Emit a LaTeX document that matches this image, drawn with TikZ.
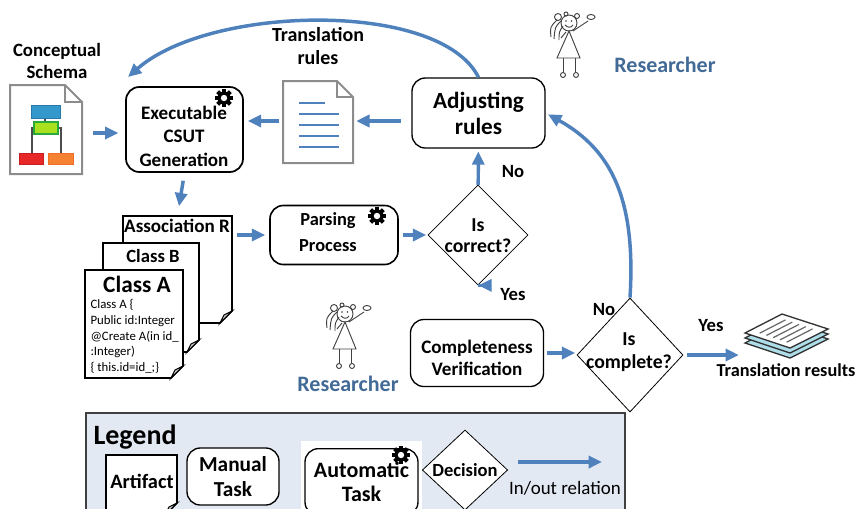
\documentclass[tikz,border=0pt]{standalone}
\usepackage{fontspec}
\setmainfont{Carlito}
\usetikzlibrary{shapes.geometric,arrows.meta}

\definecolor{flowblue}{RGB}{79,129,189}
\definecolor{roleblue}{RGB}{66,106,150}
\definecolor{legendbg}{RGB}{227,233,243}
\definecolor{docgray}{RGB}{140,140,140}

\tikzset{
	flow/.style={draw=flowblue, line width=2.6pt, -{Triangle[length=10pt,width=9pt]}},
	task/.style={draw, rounded corners=10pt, line width=1pt, fill=white, align=center, inner sep=0pt, font=\bfseries\fontsize{14.3}{18}\selectfont},
	decision/.style={draw, diamond, line width=0.6pt, fill=white, align=center, inner sep=0pt, font=\bfseries\fontsize{14.8}{16}\selectfont},
	txt/.style={align=center, inner sep=0pt, font=\bfseries\fontsize{14}{16.5}\selectfont},
	artifact/.style={draw, line width=1.2pt, fill=white},
	docline/.style={draw=docgray, line width=1.5pt, fill=white},
	sketch/.style={draw=black!75, line width=0.7pt},
	gear/.pic={
		\foreach \a in {0,45,...,315}
			\fill[rotate=\a] (-2,5) rectangle (2,9);
		\fill (0,0) circle (6.5);
		\fill[white] (0,0) circle (3.2);
	},
	researcher/.pic={
		\draw[sketch] (0,0) circle (8);
		% hair
		\draw[sketch] (-11,-6) circle (3.5) (8,-7) circle (2.5) (-3,-9) circle (2);
		\draw[sketch] (-8,-2) .. controls (-14,4) .. (-15,16) (-6,3) .. controls (-10,9) .. (-10,17) (-12,-3) .. controls (-19,4) .. (-18,14);
		% face
		\draw[sketch] (-4,2) .. controls (-1,5) and (2,5) .. (4,2);
		\fill[black!75] (-3,-2) circle (0.8) (2.5,-2) circle (0.8);
		% arms
		\draw[sketch] (4,8) -- (19,-2) (-3,9) -- (-8,15);
		\draw[sketch] (22,-6) ellipse (4 and 2.5);
		% dress
		\draw[sketch] (0,8) -- (-12,35) -- (11,35) -- cycle;
		% legs and feet
		\draw[sketch] (-6,35) -- (-6,49) (6,35) -- (6,49);
		\draw[sketch] (-6,52) circle (2.5) (7,52) circle (2.5);
	}
}
\tikzset{every picture/.style={line width=0.75pt}}

\begin{document}
\begin{tikzpicture}[x=0.75pt,y=0.75pt,yscale=-1,xscale=1]
	\useasboundingbox (0,0) rectangle (860,508);

	%Shape: Legend frame
	\draw[fill=legendbg, draw=black!75, line width=0.8pt] (86,413) rectangle (625,530);
	% Text Node
	\node[txt, anchor=west, font=\bfseries\fontsize{21}{24}\selectfont] (legend) at (93,437) {Legend};
	%Shape: artifact sample
	\draw[artifact] (106,455) -- (177,455) -- (177,503) -- (165,515) -- (106,515) -- cycle;
	\draw[artifact, fill=gray!40, line width=0.8pt] (177,503) -- (169,507) -- (165,515) -- cycle;
	\node[txt, font=\bfseries\fontsize{15.3}{18}\selectfont] (legartifact) at (142,481) {Artifact};
	%Shape: manual task sample
	\node[task, minimum width=69pt, minimum height=42.75pt, font=\bfseries\fontsize{16}{18.5}\selectfont] (legmanual) at (233,476.5) {Manual\\Task};
	%Shape: automatic task sample
	\fill[white] (301,441) rectangle (422,512);
	\node[task, minimum width=84.75pt, minimum height=50pt, font=\bfseries\fontsize{16.5}{18.5}\selectfont] (legauto) at (361.5,482) {Automatic\\Task};
	\pic at (401,455) {gear};
	%Shape: decision sample
	\node[decision, minimum width=64pt, minimum height=60pt, font=\bfseries\fontsize{13.9}{16}\selectfont] (legdecision) at (465,470) {Decision};
	%Straight Lines: in/out sample
	\coordinate (legfrom) at (518,462);
	\coordinate (legto) at (602,462);
	\draw[flow] (legfrom) -- (legto);
	\node[inner sep=0pt, font=\fontsize{14.2}{16}\selectfont] (leginout) at (565,488) {In/out relation};

	%Shape: conceptual schema artifact
	\draw[docline] (10,85) -- (65,85) -- (82,102) -- (82,174) -- (10,174) -- cycle;
	\draw[draw=docgray, line width=1.2pt] (65,85) -- (65,102) -- (82,102);
	\draw[black!70, line width=1.2pt] (45,118) -- (45,122) (34,128) -- (32,128) -- (32,153) (58,128) -- (61,128) -- (61,153);
	\draw[fill={rgb,255:red,51;green,153;blue,204}, draw={rgb,255:red,40;green,120;blue,170}] (31,105) rectangle (60,118);
	\draw[fill={rgb,255:red,170;green,225;blue,30}, draw={rgb,255:red,40;green,170;blue,60}, line width=1.2pt] (34,122) rectangle (58,134);
	\draw[fill={rgb,255:red,230;green,40;blue,40}, draw={rgb,255:red,200;green,30;blue,30}] (19,153) rectangle (43,164);
	\draw[fill={rgb,255:red,245;green,130;blue,50}, draw={rgb,255:red,240;green,110;blue,40}] (48,153) rectangle (73,164);
	\node[inner sep=0pt, minimum width=54pt, minimum height=67pt] (schema) at (46,133) {};
	% Text Node
	\node[txt, font=\bfseries\fontsize{14.1}{17}\selectfont] (schematitle) at (57,61) {Conceptual\\Schema};

	%Shape: executable CSUT generation
	\node[task, line width=1.3pt, minimum width=87.75pt, minimum height=63.75pt] (exec) at (184.5,129.5) {};
	\node[txt, font=\bfseries\fontsize{14.3}{17.6}\selectfont] (exectext) at (184,136) {Executable\\CSUT\\Generation};
	\pic at (224,98) {gear};
	\coordinate (execin) at (128,77);

	%Shape: translation rules artifact
	\draw[docline] (283,81) -- (337,81) -- (353,97) -- (353,163) -- (283,163) -- cycle;
	\draw[draw=docgray, line width=1.2pt] (337,81) -- (337,97) -- (353,97);
	\draw[flowblue, line width=1pt] (299,103) -- (325,103);
	\foreach \y in {114,125,136,147}
		\draw[flowblue, line width=1pt] (299,\y) -- (339,\y);
	\node[inner sep=0pt, minimum width=52.5pt, minimum height=61.5pt] (rules) at (318,121) {};
	% Text Node
	\node[txt, font=\bfseries\fontsize{15}{17.5}\selectfont] (rulestitle) at (318,46) {Translation\\rules};

	%Shape: adjusting rules
	\node[task, minimum width=99.75pt, minimum height=52.5pt, font=\bfseries\fontsize{17.4}{19.5}\selectfont] (adjust) at (478.5,113) {Adjusting\\rules};

	%Shape: class artifacts
	\draw[artifact] (123,216) -- (232,216) -- (232,311) -- (220,323) -- (123,323) -- cycle;
	\draw[artifact, fill=gray!40, line width=0.8pt] (232,311) -- (224,315) -- (220,323) -- cycle;
	\draw[artifact] (103,243) -- (199,243) -- (199,340) -- (187,352) -- (103,352) -- cycle;
	\draw[artifact, fill=gray!40, line width=0.8pt] (199,340) -- (191,344) -- (187,352) -- cycle;
	\draw[artifact] (85,270) -- (183,270) -- (183,366) -- (171,378) -- (85,378) -- cycle;
	\draw[artifact, fill=gray!40, line width=0.8pt] (183,366) -- (175,370) -- (171,378) -- cycle;
	\node[inner sep=0pt, minimum width=81.75pt, minimum height=80.25pt] (assoc) at (177.5,269.5) {};
	% Text Node
	\node[txt, font=\bfseries\fontsize{14.3}{16}\selectfont] (assoctitle) at (177,226) {Association R};
	\node[txt, font=\bfseries\fontsize{14}{16}\selectfont] (classbtitle) at (153,256) {Class B};
	\node[txt, font=\bfseries\fontsize{17.5}{19}\selectfont] (classatitle) at (137,284) {Class A};
	\node[anchor=north west, align=left, inner sep=0pt, font=\fontsize{9.6}{11.8}\selectfont] (classacode) at (90,299) {Class A \{\\Public id:Integer\\@Create A(in id\_\\:Integer)\\\{ this.id=id\_;\}};

	%Shape: parsing process
	\node[task, line width=1.2pt, minimum width=96pt, minimum height=44.25pt] (parsing) at (334,235) {};
	\node[txt, font=\bfseries\fontsize{13.8}{19}\selectfont] (parsingtext) at (328,232) {Parsing\\Process};
	\pic at (377,216) {gear};

	%Shape: decisions
	\node[decision, minimum width=75pt, minimum height=75pt] (iscorrect) at (478,235) {};
	\node[txt, font=\bfseries\fontsize{14.8}{16}\selectfont] (iscorrecttext) at (478,236) {Is\\correct?};
	\node[decision, minimum width=79.5pt, minimum height=85.5pt] (iscomplete) at (630,355) {};
	\node[txt, font=\bfseries\fontsize{14.8}{17.5}\selectfont] (iscompletetext) at (629,352) {Is\\complete?};

	%Shape: completeness verification
	\node[task, minimum width=99.75pt, minimum height=50.25pt] (verif) at (477,353) {};
	\node[txt, font=\bfseries\fontsize{14.3}{16}\selectfont] (veriftext) at (477,358) {Completeness\\Verification};

	%Shape: translation results
	\foreach \d in {10,5}
		\draw[fill={rgb,255:red,175;green,222;blue,235}, draw=black!80, line width=1pt] (745,333+\d) -- (782,314+\d) -- (828,329+\d) -- (790,348+\d) -- cycle;
	\draw[fill=white, draw=black!80, line width=1pt] (745,333) -- (782,314) -- (828,329) -- (790,348) -- cycle;
	\foreach \v in {0.2,0.35,0.5,0.65,0.8}
		\draw[black!60, line width=0.9pt] ({750.6+\v*45},{330.2+\v*15}) -- ({776.5+\v*45},{316.9+\v*15});
	\node[inner sep=0pt, minimum width=62pt, minimum height=36pt] (results) at (786,336) {};
	% Text Node
	\node[txt, font=\bfseries\fontsize{13.7}{16}\selectfont] (resultstitle) at (786,370) {Translation results};

	%Shape: researchers
	\pic[yscale=-1] at (569,23) {researcher};
	\pic[yscale=-1] at (345,314) {researcher};
	\node[txt, text=roleblue, font=\bfseries\fontsize{16.5}{19}\selectfont] (role1) at (665,65) {Researcher};
	\node[txt, text=roleblue, font=\bfseries\fontsize{16.5}{19}\selectfont] (role2) at (348,384) {Researcher};

	%Straight Lines
	\draw[flow, shorten <=8pt, shorten >=5pt] (schema) -- (schema -| exec.west);
	\draw[flow, shorten <=3pt, shorten >=3pt] (rules.west) -- (rules.west -| exec.east);
	\draw[flow, shorten <=8pt, shorten >=2pt] (adjust.west |- rules.east) -- (rules.east);
	\draw[flow, shorten <=6pt, shorten >=7pt] (exec.south) -- (assoc.north);
	\draw[flow, shorten <=3pt, shorten >=3pt] (assoc.east |- parsing.west) -- (parsing.west);
	\draw[flow, shorten <=3pt, shorten >=1pt] (parsing) -- (iscorrect);
	\draw[flow, shorten >=2pt] (iscorrect) -- (adjust);
	\draw[flow, shorten >=1pt] (iscorrect.south) -- (iscorrect.south -| verif.north);
	\draw[flow, shorten <=2pt, shorten >=1pt] (verif.east) -- (verif.east -| iscomplete.west);
	\draw[flow, shorten <=3pt, shorten >=4pt] (iscomplete.east) -- (iscomplete.east -| results.west);

	%Curve Lines
	\draw[flow] (adjust.north) .. controls (440,0) and (210,5) .. (execin);
	\draw[flow, shorten >=2pt] (iscomplete.north) .. controls (636,200) and (612,150) .. (adjust.east);

	% Text Node
	\node[txt] (no1) at (513,172) {No};
	\node[txt] (yes1) at (513,295) {Yes};
	\node[txt] (no2) at (604,310) {No};
	\node[txt] (yes2) at (711,326) {Yes};

\end{tikzpicture}
\end{document}
